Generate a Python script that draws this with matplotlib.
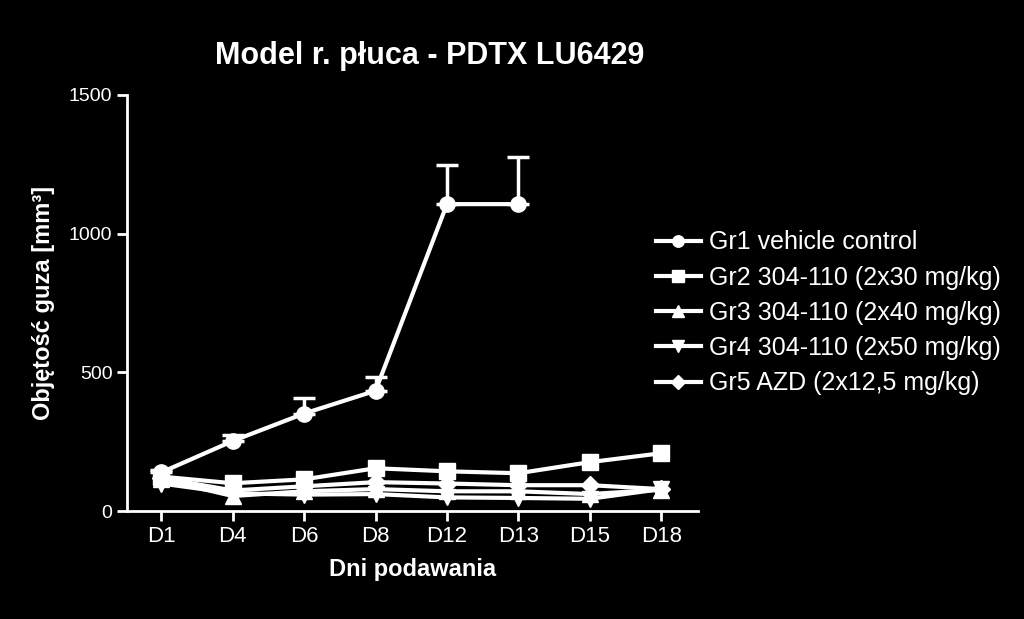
import numpy as np
import matplotlib
matplotlib.use("Agg")
import matplotlib.pyplot as plt

# --- dane ---
days = ["D1", "D4", "D6", "D8", "D12", "D13", "D15", "D18"]
gr1 = [140, 253, 352, 434, 1106, 1106, np.nan, np.nan]
gr1_err = [8, 21, 55, 49, 142, 171, 0, 0]
gr2 = [125, 101, 115, 155, 144, 137, 177, 209]
gr3 = [115, 55, 72, 80, 72, 72, 62, 78]
gr4 = [100, 65, 60, 62, 50, 48, 45, 80]
gr5 = [120, 75, 90, 105, 100, 94, 94, 80]

labels = [
    "Gr1 vehicle control",
    "Gr2 304-110 (2x30 mg/kg)",
    "Gr3 304-110 (2x40 mg/kg)",
    "Gr4 304-110 (2x50 mg/kg)",
    "Gr5 AZD (2x12,5 mg/kg)",
]
markers = ["o", "s", "^", "v", "D"]

plt.rcParams["font.family"] = ["Liberation Sans", "DejaVu Sans"]

fig = plt.figure(figsize=(10.24, 6.19), dpi=100, facecolor="black")
ax = fig.add_axes([0.124, 0.174, 0.558, 0.673], facecolor="black")

x = np.arange(len(days))

# słupki błędów tylko w górę (jak w GraphPad)
ax.errorbar(x, gr1, yerr=[np.zeros(len(x)), gr1_err], fmt="none",
            ecolor="white", elinewidth=2.5, capsize=8, capthick=2.5, zorder=2)

series = [gr1, gr2, gr3, gr4, gr5]
for vals, lab, m in zip(series, labels, markers):
    ms = 9 if m == "D" else 11
    ax.plot(x, vals, marker=m, color="white", linewidth=3, markersize=ms,
            label=lab, zorder=3)

ax.set_xlim(-0.48, 7.52)
ax.set_ylim(0, 1500)
ax.set_xticks(x)
ax.set_xticklabels(days)
ax.set_yticks([0, 500, 1000, 1500])

for side in ["top", "right"]:
    ax.spines[side].set_visible(False)
for side in ["left", "bottom"]:
    ax.spines[side].set_color("white")
    ax.spines[side].set_linewidth(2)

ax.tick_params(colors="white", width=2, length=7, labelsize=16)
ax.tick_params(axis="y", labelsize=14)

ax.set_xlabel("Dni podawania", color="white", fontsize=17, fontweight="bold", labelpad=8)
ax.set_ylabel("Objętość guza [mm³]", color="white", fontsize=17, fontweight="bold", labelpad=10)
fig.text(0.42, 0.91, "Model r. płuca - PDTX LU6429", color="white", fontsize=22,
         fontweight="bold", ha="center", va="center")

leg = ax.legend(loc="center left", bbox_to_anchor=(0.925, 0.476), frameon=False,
                fontsize=18, labelcolor="white", handlelength=1.8,
                handletextpad=0.35, labelspacing=0.45, borderaxespad=0,
                borderpad=0, markerscale=0.75)

fig.savefig("out.png", dpi=100, facecolor="black")
